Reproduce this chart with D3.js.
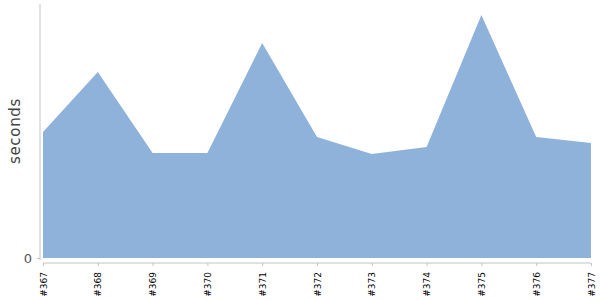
<!DOCTYPE html>
<html><head><meta charset="utf-8">
<script src="https://cdn.jsdelivr.net/npm/d3@7"></script>
<style>body{margin:0;background:#fff}svg{display:block}</style>
</head><body>
<script>
const builds = ["#367","#368","#369","#370","#371","#372","#373","#374","#375","#376","#377"];
const seconds = [12.6,18.6,10.5,10.5,21.5,12.1,10.4,11.1,24.3,12.1,11.5];
const yTicks = [0];

const W=600,H=300;
const FONT="DejaVu Sans, sans-serif";
const svg=d3.select("body").append("svg").attr("width",W).attr("height",H);
const x=d3.scalePoint().domain(builds).range([43,591]);
const y=d3.scaleLinear().domain([0,25.4]).range([258,4]);

svg.append("path").datum(builds.map((b,i)=>({b,v:seconds[i]})))
 .attr("fill","#8fb2da")
 .attr("d",d3.area().x(d=>x(d.b)).y0(y(0)).y1(d=>y(d.v)));

// y axis
const ya=svg.append("g").attr("transform","translate(40,0)")
 .call(d3.axisLeft(y).tickValues(yTicks).tickSize(3).tickPadding(5));
ya.select(".domain").attr("d","M0,4V260").attr("stroke","#c4c4c4");
ya.selectAll(".tick line").attr("stroke","#c4c4c4");
ya.selectAll(".tick text").attr("fill","#555").attr("font-family",FONT).attr("font-size",13);

// x axis
const xa=svg.append("g").attr("transform","translate(0,263)")
 .call(d3.axisBottom(x).tickSize(3).tickSizeOuter(0));
xa.select(".domain").attr("stroke","#c4c4c4").attr("d","M43,0H591");
xa.selectAll(".tick line").attr("stroke","#c4c4c4");
xa.selectAll(".tick text").attr("fill","#000").attr("font-family",FONT).attr("font-size",9)
 .attr("transform","rotate(-90)").attr("text-anchor","end").attr("x",-9).attr("y",0).attr("dy","0.35em");

svg.append("text").attr("transform","translate(20,131) rotate(-90)")
 .attr("text-anchor","middle").attr("font-family",FONT).attr("font-size",15)
 .attr("letter-spacing",0.7)
 .attr("fill","#444").text("seconds");
</script>
</body></html>
